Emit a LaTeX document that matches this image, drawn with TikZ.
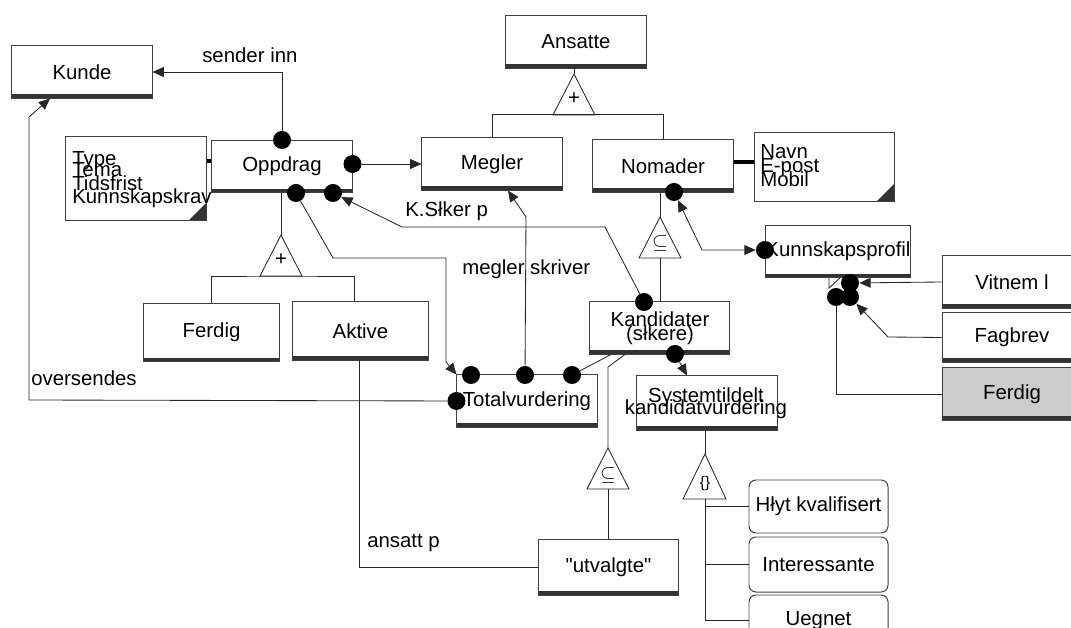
\documentclass[tikz,border=0pt]{standalone}
\usepackage{fontspec}
\setmainfont{Liberation Sans}
\usetikzlibrary{arrows.meta}

\begin{document}
\begin{tikzpicture}[x=0.025cm, y=-0.025cm,
    font=\fontsize{14.5}{16}\selectfont,
    ent/.style={draw=black!75, line width=0.7pt, fill=white, inner sep=0pt,
        minimum width=3.5cm, minimum height=1.3cm,
        path picture={\fill[black!80] (path picture bounding box.south west)
            rectangle ([yshift=2.6pt]path picture bounding box.south east);}},
    attrbox/.style={draw=black!75, line width=0.7pt, fill=white, minimum width=3.5cm,
        path picture={\fill[black!80] (path picture bounding box.south east)
            -- ++(-0.42cm,0cm) -- ++(0.42cm,0.42cm) -- cycle;}},
    rbox/.style={draw=black!75, line width=0.7pt, fill=white, rounded corners=5pt,
        minimum width=3.475cm, minimum height=1.375cm},
    dot/.style={circle, fill=black, inner sep=0pt, minimum size=0.45cm},
    line/.style={draw=black!85, line width=0.6pt},
    arr/.style={line, -{Triangle[length=8pt, width=7pt]}},
    gen/.style={draw=black!85, line width=0.6pt, fill=white},
    genlbl/.style={inner sep=0pt},
    attrlink/.style={draw=black, line width=2.2pt},
    lbl/.style={inner sep=0pt}]

    \useasboundingbox (0,0) rectangle (1071,628);
    \clip (0,0) rectangle (1071,628);

    % Entities
    \node[ent] (kunde) at (82,72) {Kunde};
    \node[ent] (ansatte) at (576,42) {Ansatte};
    \node[ent] (oppdrag) at (282,166.5) {Oppdrag};
    \node[ent] (megler) at (492,164) {Megler};
    \node[ent] (nomader) at (663,166) {Nomader};
    \node[ent, minimum width=3.375cm, minimum height=1.45cm] (ferdig) at (211.5,332.5) {Ferdig};
    \node[ent, minimum width=3.375cm, minimum height=1.45cm] (aktive) at (360.5,331) {Aktive};
    \node[ent] (totalv) at (527,401) {Totalvurdering};
    \node[ent] (kandidater) at (659.5,328) {};
    \node[lbl, anchor=base] (kand1) at (660,327) {Kandidater};
    \node[lbl, anchor=base] (kand2) at (660,341) {(słkere)};
    \node[ent, minimum height=1.35cm] (systemv) at (707,403) {};
    \node[lbl, anchor=base] (sys1) at (706,403) {Systemtildelt};
    \node[lbl, anchor=base] (sys2) at (706,415) {kandidatvurdering};
    \node[ent, minimum height=1.4cm] (utvalgte) at (608.5,567) {\textquotedbl utvalgte\textquotedbl};
    \node[ent] (kprofil) at (838,251.5) {Kunnskapsprofil};
    \node[ent] (vitnem) at (1012,282) {Vitnem l};
    \node[ent, minimum height=1.225cm] (fagbrev) at (1012,337.5) {Fagbrev};
    \node[ent, fill=black!20] (ferdig2) at (1012,394) {Ferdig};

    % Rounded subtypes
    \node[rbox, minimum height=1.325cm] (hoyt) at (818.5,506.5) {Hłyt kvalifisert};
    \node[rbox] (interessante) at (818.5,564.5) {Interessante};
    \node[rbox, minimum height=1.275cm] (uegnet) at (818.5,620.5) {Uegnet};

    % Attribute boxes
    \node[attrbox, minimum height=2.075cm] (attr) at (136,178.5) {};
    \node[attrbox, minimum height=1.7cm] (navn) at (824,167) {};
    \foreach \t/\y [count=\i] in {Type/166, Tema/177, Tidsfrist/191, Kunnskapskrav/204}
        \node[lbl, anchor=base west] (attr\i) at (72,\y) {\t};
    \foreach \t/\y [count=\i] in {Navn/159, E-post/173, Mobil/187}
        \node[lbl, anchor=base west] (navn\i) at (760,\y) {\t};
    \draw[attrlink] (attr.east |- 0,161) -- (oppdrag.west |- 0,161);
    \draw[attrlink] (nomader.east |- 0,162) -- (navn.west |- 0,162);

    % Generalisations
    \draw[gen] (574,74) coordinate (gAns) -- (595,115) -- (553,115) -- cycle;
    \node[genlbl] (gAnsLbl) at (574,99) {+};
    \draw[line] (ansatte.south -| gAns) -- (gAns);
    \draw[line] (megler.north) -- ++(0,-23) -| (nomader.north);

    \draw[gen] (281,235) coordinate (gOpp) -- (302,276) -- (260,276) -- cycle;
    \coordinate (gOppB) at (281,276);
    \node[genlbl] (gOppLbl) at (281,260) {+};
    \draw[line] (oppdrag.south -| gOpp) -- (gOpp);
    \draw[line] (ferdig.north) |- (gOppB) -| (aktive.north -| 354,0);

    \draw[gen] (660,217) coordinate (gNom) -- (681,258) -- (639,258) -- cycle;
    \node[genlbl] (gNomLbl) at (660,243) {$\subseteq$};
    \draw[line] (nomader.south -| gNom) -- (gNom);
    \draw[line] (660,258) -- (kandidater.north -| 660,0);

    \draw[gen] (608,448) coordinate (gKan) -- (629,489) -- (587,489) -- cycle;
    \node[genlbl] (gKanLbl) at (608,475) {$\subseteq$};
    \draw[line] (kandidater.south -| 625,0) -- (608,367) -- (gKan);
    \draw[line] (608,489) -- (utvalgte.north -| 608,0);

    \draw[gen] (705,454) coordinate (gSys) -- (726,499) -- (683,499) -- cycle;
    \node[genlbl, font=\fontsize{11}{12}\selectfont] (gSysLbl) at (705,484) {\{\}};
    \draw[line] (systemv.south -| gSys) -- (gSys);
    \foreach \b in {hoyt, interessante, uegnet}
        \draw[line] (705,499) |- (\b.west);

    % Dots
    \node[dot] (dSend) at (oppdrag.north) {};
    \node[dot] (dMegler) at (oppdrag.east |- megler.west) {};
    \node[dot] (dTot) at (296,193) {};
    \node[dot] (dSoker) at (333,193) {};
    \node[dot] (dNom) at (674,192) {};
    \node[dot] (dKprof) at (kprofil.west |- 0,250) {};
    \node[dot] (dKanTop) at (644,302) {};
    \node[dot] (dKanSys) at (675,354) {};
    \node[dot] (dTotA) at (471,375) {};
    \node[dot] (dTotB) at (525,375) {};
    \node[dot] (dTotC) at (572,375) {};
    \node[dot] (dTotL) at (totalv.west) {};
    \node[dot] (dVit) at (850,283) {};
    \node[dot] (dFerd) at (836,297) {};
    \node[dot] (dFag) at (850,297) {};

    % Connections
    \draw[arr] (dSend) |- (kunde.east);
    \draw[arr] (dMegler) -- (megler.west);
    \draw[arr] (dTotL) -- (29,400) -- (29,117) -- (kunde.south -| 50,0);
    \draw[arr] (dTot) -- (333,258) -- (446,258) -- (446,362) -- (totalv.north west);
    \draw[arr] (dKanTop) -- (605,227) -- (402,227) -- (dSoker);
    \draw[arr] (dTotB) -- (526,217) -- (megler.south -| 508,0);
    \draw[line] (dTotC) -- (kandidater.south -| 611,0);
    \draw[arr] (dKanSys) -- (systemv.north -| 687,0);
    \draw[line] (aktive.south -| 359,0) |- (utvalgte.west);
    \draw[line, {Triangle[length=8pt, width=7pt]}-{Triangle[length=8pt, width=7pt]}]
        (dNom) -- (702,250) -- (dKprof);
    \draw[arr] (vitnem.west) -- (dVit);
    \draw[arr] (fagbrev.west) -- (888,337) -- (dFag);
    \draw[line] (ferdig2.west) -| (dFerd);
    \draw[line] (kprofil.south -| 829,0) -- (829,288) -- (840,278);

    % Labels
    \node[lbl, anchor=base west] (lSend) at (202,63) {sender inn};
    \node[lbl, anchor=base west] (lOver) at (31,386) {oversendes};
    \node[lbl, anchor=base west] (lSoker) at (405,217) {K.Słker p};
    \node[lbl, anchor=base west] (lSkriver) at (462,275) {megler skriver};
    \node[lbl, anchor=base west] (lAnsatt) at (367,547) {ansatt p};
\end{tikzpicture}
\end{document}
